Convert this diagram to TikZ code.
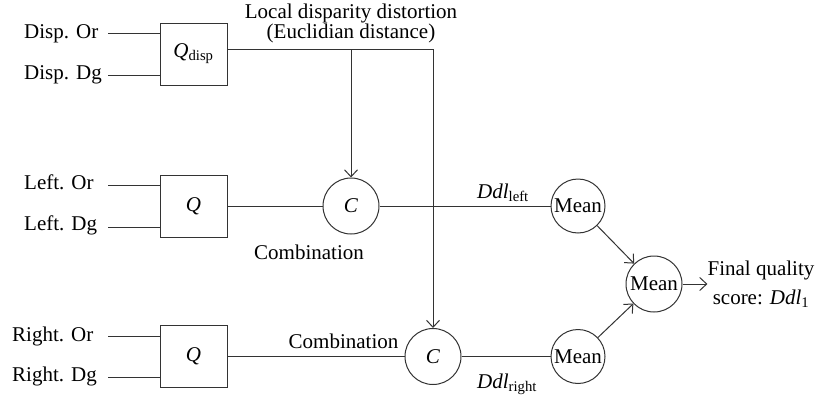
\documentclass[tikz,border=0pt]{standalone}
\usepackage{fontspec}
\setmainfont{Liberation Serif}
\usetikzlibrary{arrows.meta}
\begin{document}
\begin{tikzpicture}[x=1pt,y=-1pt,
  every node/.style={font=\fontsize{21}{29}\selectfont, inner sep=0pt, text=black},
  wire/.style={line width=1pt, draw=black!80},
  arr/.style={wire, -{Straight Barb[length=7pt,width=13pt]}},
  qbox/.style={draw=black!80, line width=1pt, minimum width=67pt, minimum height=62pt},
  opc/.style={draw=black!80, line width=1pt, circle, minimum size=56pt},
  lab/.style={text height=14pt, text depth=0pt},
]
\useasboundingbox (0,0) rectangle (817,399);
% blocks
\node[qbox] (qd) at (193.5,54) {\textit{Q}\textsubscript{disp}};
\node[qbox] (ql) at (193.5,206) {\textit{Q}};
\node[qbox] (qr) at (193.5,356.5) {\textit{Q}};
\node[opc] (cl) at (351,206) {\textit{C}};
\node[opc] (cr) at (433,356.5) {\textit{C}};
\node[opc, minimum size=54pt] (ml) at (578,206) {Mean};
\node[opc] (mm) at (654,284) {Mean};
\node[opc, minimum size=54pt] (mr) at (578,356.5) {Mean};
\node[align=center] (fin) at (761,284) {Final quality\\score: \textit{Ddl}\textsubscript{1}};
% input labels
\node[lab, anchor=west] (ldo) at (24,31) {Disp. Or};
\node[lab, anchor=west] (ldd) at (24,72) {Disp. Dg};
\node[lab, anchor=west] (llo) at (24,182.5) {Left. Or};
\node[lab, anchor=west] (lld) at (24,223.5) {Left. Dg};
\node[lab, anchor=west] (lro) at (12,334.5) {Right. Or};
\node[lab, anchor=west] (lrd) at (12,374) {Right. Dg};
% other labels
\node[align=center, font=\fontsize{21}{19}\selectfont] (t1) at (351,23) {Local disparity distortion\\(Euclidian distance)};
\node[lab] (cb1) at (309,252) {Combination};
\node[lab] (cb2) at (343.5,341.5) {Combination};
\node[lab, anchor=west] (dl) at (477,191.5) {\textit{Ddl}\textsubscript{left}};
\node[lab, anchor=west] (dr) at (477,381.5) {\textit{Ddl}\textsubscript{right}};
% input wires
\coordinate (i1) at (108,33);
\coordinate (i2) at (108,75);
\coordinate (i3) at (108,185);
\coordinate (i4) at (108,227);
\coordinate (i5) at (108,336);
\coordinate (i6) at (108,377);
\draw[wire] (i1) -- (i1 -| qd.west);
\draw[wire] (i2) -- (i2 -| qd.west);
\draw[wire] (i3) -- (i3 -| ql.west);
\draw[wire] (i4) -- (i4 -| ql.west);
\draw[wire] (i5) -- (i5 -| qr.west);
\draw[wire] (i6) -- (i6 -| qr.west);
% disparity distribution
\coordinate (j1) at (351,49);
\coordinate (j2) at (433,49);
\draw[wire] ([yshift=5pt]qd.east) -- (j2);
\draw[arr] (j1) -- (cl.north);
\draw[arr] (j2) -- (cr.north);
% main paths
\draw[wire] (ql) -- (cl);
\draw[wire] (qr) -- (cr);
\draw[wire] (cl) -- (ml);
\draw[wire] (cr) -- (mr);
\draw[arr] (ml) -- (mm);
\draw[arr] (mr) -- (mm);
\draw[arr] (mm) -- (fin.west |- mm);
\end{tikzpicture}
\end{document}
